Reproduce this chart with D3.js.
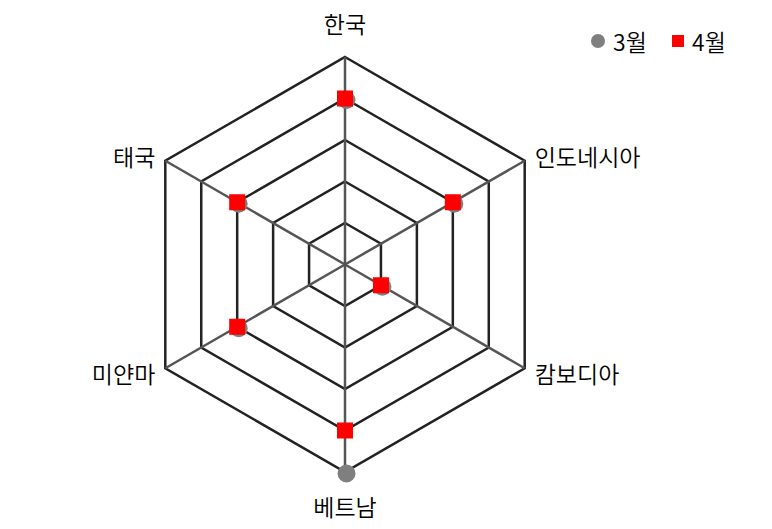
<!DOCTYPE html>
<html>
<head>
<meta charset="utf-8">
<script src="https://cdn.jsdelivr.net/npm/d3@7"></script>
<style>
  body { margin: 0; background: #fff; }
  text { font-family: "Noto Sans CJK KR", "Noto Sans", sans-serif; fill: #000; font-weight: 350; }
</style>
</head>
<body>
<svg id="chart"></svg>
<script>
const categories = ['한국', '인도네시아', '캄보디아', '베트남', '미얀마', '태국'];
const march = [4, 3, 1, 5, 3, 3];
const april = [4, 3, 1, 4, 3, 3];
const levels = [1, 2, 3, 4, 5];
const seriesNames = ['3월', '4월'];

const width = 772, height = 529;
const cx = 345, cy = 264.5, radius = 207.5;

const svg = d3.select('#chart')
    .attr('width', width)
    .attr('height', height);

const r = d3.scaleLinear().domain([0, 5]).range([0, radius]);
const angle = d3.scaleLinear().domain([0, categories.length]).range([0, 2 * Math.PI]);

const point = (i, v) => [cx + r(v) * Math.sin(angle(i)), cy - r(v) * Math.cos(angle(i))];

const g = svg.append('g');

// rings
g.selectAll('.ring')
    .data(levels)
    .join('polygon')
        .attr('class', 'ring')
        .attr('points', d => categories.map((c, i) => point(i, d).join(',')).join(' '))
        .attr('fill', 'none')
        .attr('stroke', '#222')
        .attr('stroke-width', 2.5);

// spokes
g.selectAll('.spoke')
    .data(categories)
    .join('line')
        .attr('class', 'spoke')
        .attr('x1', cx)
        .attr('y1', cy)
        .attr('x2', (d, i) => point(i, 5)[0])
        .attr('y2', (d, i) => point(i, 5)[1])
        .attr('stroke', '#555')
        .attr('stroke-width', 2.5);

// axis labels
g.selectAll('.label')
    .data(categories)
    .join('text')
        .attr('class', 'label')
        .attr('x', (d, i) => {
            const s = Math.sin(angle(i));
            return point(i, 5)[0] + (Math.abs(s) < 0.01 ? 0 : Math.sign(s) * 10);
        })
        .attr('y', (d, i) => {
            const c = Math.cos(angle(i));
            const base = point(i, 5)[1];
            if (Math.abs(c) > 0.99) return base - Math.sign(c) * 34;
            return base - c * 10;
        })
        .attr('text-anchor', (d, i) => {
            const s = Math.sin(angle(i));
            return Math.abs(s) < 0.01 ? 'middle' : (s > 0 ? 'start' : 'end');
        })
        .attr('dominant-baseline', 'central')
        .attr('font-size', 23)
        .text(d => d);

// 3월 markers (drawn slightly offset, peeking out under the squares)
g.append('g')
    .attr('transform', 'translate(1.5,1.5)')
    .selectAll('circle')
    .data(march)
    .join('circle')
        .attr('cx', (d, i) => point(i, d)[0])
        .attr('cy', (d, i) => point(i, d)[1])
        .attr('r', 9)
        .attr('fill', '#7f7f7f');

// 4월 markers
const sq = 16;
g.append('g')
    .selectAll('rect')
    .data(april)
    .join('rect')
        .attr('x', (d, i) => point(i, d)[0] - sq / 2)
        .attr('y', (d, i) => point(i, d)[1] - sq / 2)
        .attr('width', sq)
        .attr('height', sq)
        .attr('fill', '#ff0000');

// legend
const legend = svg.append('g').attr('transform', 'translate(598,41)');
legend.append('circle').attr('cx', 0).attr('cy', 0).attr('r', 7).attr('fill', '#7f7f7f');
legend.append('text').attr('x', 15).attr('y', 0).attr('dominant-baseline', 'central')
    .attr('font-size', 23).text(seriesNames[0]);
legend.append('rect').attr('x', 74).attr('y', -6).attr('width', 12).attr('height', 12).attr('fill', '#ff0000');
legend.append('text').attr('x', 94).attr('y', 0).attr('dominant-baseline', 'central')
    .attr('font-size', 23).text(seriesNames[1]);
</script>
</body>
</html>
